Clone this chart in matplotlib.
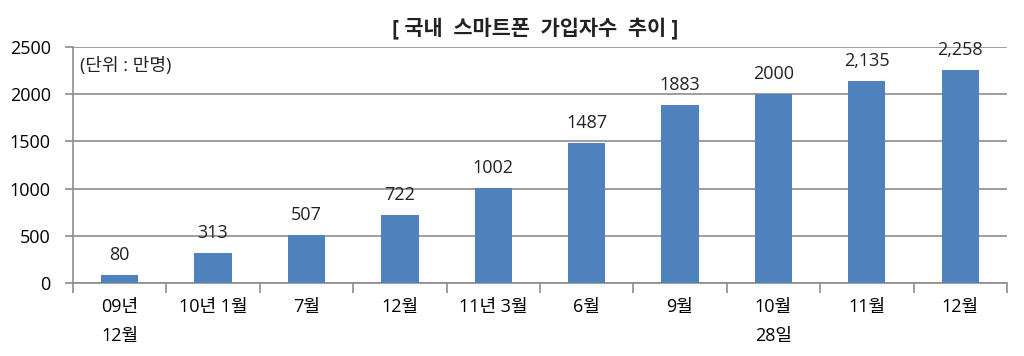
import matplotlib.pyplot as plt
import numpy as np

plt.rcParams['font.family'] = ['Open Sans', 'Noto Sans CJK KR', 'DejaVu Sans']

categories = ['09년\n12월', '10년 1월', '7월', '12월', '11년 3월', '6월', '9월', '10월\n28일', '11월', '12월']
subscribers = [80, 313, 507, 722, 1002, 1487, 1883, 2000, 2135, 2258]
value_labels = ['80', '313', '507', '722', '1002', '1487', '1883', '2000', '2,135', '2,258']

fig = plt.figure(figsize=(10.24, 3.56), dpi=100)
ax = fig.add_axes([0.0713, 0.205, 0.912, 0.663])

x = np.arange(len(categories))
bar_color = '#4F81BD'
ax.bar(x, subscribers, width=0.4, color=bar_color, zorder=3)

for xi, v, lbl in zip(x, subscribers, value_labels):
    ax.annotate(lbl, (xi, v), xytext=(0, 8), textcoords='offset points',
                ha='center', va='bottom', fontsize=13, color='#222222', zorder=4)

ax.set_xlim(-0.5, len(categories) - 0.5)
ax.set_ylim(0, 2500)
ax.set_yticks(range(0, 2501, 500))
ax.yaxis.grid(True, color='#8c8c8c', linewidth=1.2, zorder=0)
ax.tick_params(axis='y', labelsize=13, length=6, color='#8c8c8c', width=1.2, pad=10)

ax.set_xticks(x)
ax.set_xticklabels(categories, fontsize=13, linespacing=1.75)
ax.tick_params(axis='x', length=0, pad=11)
ax.set_xticks(np.arange(-0.5, len(categories), 1), minor=True)
ax.tick_params(axis='x', which='minor', length=7, color='#8c8c8c', width=1.2)

for s in ['top', 'right']:
    ax.spines[s].set_visible(False)
for s in ['left', 'bottom']:
    ax.spines[s].set_color('#8c8c8c')
    ax.spines[s].set_linewidth(1.2)

ax.text(0.008, 0.92, '(단위 : 만명)', transform=ax.transAxes, fontsize=13,
        ha='left', va='center', color='#222222')

fig.text(0.523, 0.92, '[ 국내  스마트폰  가입자수  추이 ]', fontsize=15,
         fontweight='bold', ha='center', va='center', color='#222222')

fig.savefig('out.png', dpi=100)
